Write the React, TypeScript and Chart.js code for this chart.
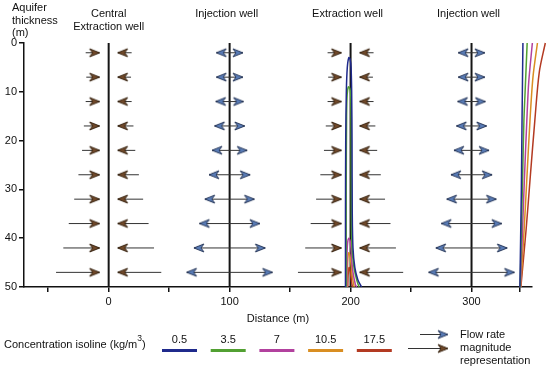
import React, { useEffect, useRef } from 'react';
import { Chart, registerables } from 'chart.js';
Chart.register(...registerables);

// ---------- data ----------
const wellPositions = [0, 100, 200, 300];
const wellTitles = [['Central', 'Extraction well'], ['Injection well'], ['Extraction well'], ['Injection well']];
const wellKinds = ['extraction', 'injection', 'extraction', 'injection'];

const arrowDepths = [2, 7, 12, 17, 22, 27, 32, 37, 42, 47];
const extractionTipGap = 7.5;
const extractionTailReach = [19, 18.5, 19, 20.5, 22, 25, 28.5, 33, 37.5, 43.5];
const injectionReach = [11, 11, 11.5, 12.5, 14.5, 17, 20.5, 25, 29.5, 35.5];

const isolineLevels = ['0.5', '3.5', '7', '10.5', '17.5'];
const isolineColors = ['#1f2a8c', '#52a032', '#b2419e', '#d98e22', '#b33a22'];

const plume05 = [
  { x: 195.8, y: 50 }, { x: 195.8, y: 35 }, { x: 196, y: 20 }, { x: 196.5, y: 10 }, { x: 197.3, y: 5 },
  { x: 198.5, y: 3 }, { x: 199.6, y: 3.3 }, { x: 200.4, y: 5 }, { x: 200.9, y: 10 }, { x: 201.2, y: 20 },
  { x: 201.4, y: 35 }, { x: 202, y: 42 }, { x: 203.5, y: 46 }, { x: 206, y: 48.5 }, { x: 209, y: 50 },
];
const plume35 = [
  { x: 196.4, y: 50 }, { x: 196.4, y: 30 }, { x: 196.7, y: 15 }, { x: 197.2, y: 10.5 }, { x: 198.2, y: 9 },
  { x: 199.4, y: 9.3 }, { x: 200.2, y: 11 }, { x: 200.5, y: 20 }, { x: 200.7, y: 35 }, { x: 201.2, y: 42 },
  { x: 202.8, y: 46 }, { x: 205, y: 48.5 }, { x: 207, y: 50 },
];
const plume7 = [
  { x: 196.9, y: 50 }, { x: 197, y: 44 }, { x: 197.5, y: 41 }, { x: 198.5, y: 40 }, { x: 199.6, y: 40.5 },
  { x: 200.3, y: 42 }, { x: 200.8, y: 44 }, { x: 202, y: 47 }, { x: 204, y: 49.5 }, { x: 205, y: 50 },
];
const plume105 = [
  { x: 197.3, y: 50 }, { x: 197.6, y: 45 }, { x: 198.4, y: 43 }, { x: 199.5, y: 43.5 }, { x: 200.4, y: 45.5 },
  { x: 201.5, y: 48 }, { x: 203, y: 50 },
];
const plume175 = [
  { x: 197.7, y: 50 }, { x: 198, y: 47.5 }, { x: 198.8, y: 46 }, { x: 199.7, y: 46.8 }, { x: 200.6, y: 48.5 },
  { x: 201.5, y: 50 },
];

const boundary05 = [{ x: 342.5, y: 0 }, { x: 341.8, y: 15 }, { x: 341.2, y: 30 }, { x: 340.6, y: 40 }, { x: 340, y: 50 }];
const boundary35 = [{ x: 346, y: 0 }, { x: 344.3, y: 10 }, { x: 343.3, y: 16 }, { x: 342.2, y: 28 }, { x: 341.1, y: 40 }, { x: 340.2, y: 50 }];
const boundary7 = [{ x: 350.3, y: 0 }, { x: 347.3, y: 8 }, { x: 345.7, y: 16 }, { x: 343.7, y: 28 }, { x: 341.9, y: 40 }, { x: 340.4, y: 50 }];
const boundary105 = [{ x: 354.5, y: 0 }, { x: 350.8, y: 7 }, { x: 348.3, y: 16 }, { x: 345.7, y: 28 }, { x: 343.1, y: 40 }, { x: 340.6, y: 50 }];
const boundary175 = [{ x: 361, y: 0 }, { x: 356, y: 6 }, { x: 352.3, y: 16 }, { x: 348.7, y: 27 }, { x: 345.2, y: 38 }, { x: 340.8, y: 50 }];

const plumes = [plume05, plume35, plume7, plume105, plume175];
const boundaries = [boundary05, boundary35, boundary7, boundary105, boundary175];

const xTickValues = [-50, 0, 50, 100, 150, 200, 250, 300, 340];
const xTickLabels = ['', '0', '', '100', '', '200', '', '300', ''];
const yTickValues = [0, 10, 20, 30, 40, 50];

const FONT = '"Liberation Sans", Arial, Helvetica, sans-serif';

function makeHead(fill: string, stroke: string, len: number, half: number, notch: number) {
  const c = document.createElement('canvas');
  const w = Math.ceil(len * 2 + 4);
  const h = Math.ceil(half * 2 + 4);
  c.width = w;
  c.height = h;
  const g = c.getContext('2d')!;
  const cx = w / 2;
  const cy = h / 2;
  g.beginPath();
  g.moveTo(cx, cy);
  g.lineTo(cx - len, cy - half);
  g.lineTo(cx - len + notch, cy);
  g.lineTo(cx - len, cy + half);
  g.closePath();
  g.fillStyle = fill;
  g.fill();
  g.lineWidth = 1;
  g.strokeStyle = stroke;
  g.stroke();
  return c;
}

export default function App() {
  const ref = useRef<HTMLCanvasElement | null>(null);

  useEffect(() => {
    if (!ref.current) return;
    const brownHead = makeHead('#71492a', '#36220f', 10, 4, 3);
    const blueHead = makeHead('#5a7db8', '#27375a', 10, 4, 3);

    const datasets: any[] = [];

    // isolines
    plumes.forEach((pts, i) => {
      datasets.push({
        data: pts, showLine: true, borderColor: isolineColors[i], borderWidth: 1.5,
        pointRadius: 0, tension: 0.3, clip: false, order: 1,
      });
    });
    boundaries.forEach((pts, i) => {
      datasets.push({
        data: pts, showLine: true, borderColor: isolineColors[i], borderWidth: 1.5,
        pointRadius: 0, tension: 0.3, clip: false, order: 1,
      });
    });

    // arrows
    wellPositions.forEach((w, wi) => {
      arrowDepths.forEach((d, di) => {
        if (wellKinds[wi] === 'extraction') {
          datasets.push({
            data: [{ x: w - extractionTailReach[di], y: d }, { x: w - extractionTipGap, y: d }],
            showLine: true, borderColor: '#333', borderWidth: 1,
            pointRadius: [0, 5], pointStyle: brownHead, rotation: 0, order: 2,
          });
          datasets.push({
            data: [{ x: w + extractionTailReach[di], y: d }, { x: w + extractionTipGap, y: d }],
            showLine: true, borderColor: '#333', borderWidth: 1,
            pointRadius: [0, 5], pointStyle: brownHead, rotation: 180, order: 2,
          });
        } else {
          datasets.push({
            data: [{ x: w - injectionReach[di], y: d }, { x: w + injectionReach[di], y: d }],
            showLine: true, borderColor: '#333', borderWidth: 1,
            pointRadius: [5, 5], pointStyle: blueHead, rotation: [180, 0], order: 2,
          });
        }
      });
    });

    // wells
    wellPositions.forEach((w) => {
      datasets.push({
        data: [{ x: w, y: 0 }, { x: w, y: 50 }], showLine: true, borderColor: '#151515',
        borderWidth: 2, pointRadius: 0, order: 3,
      });
    });

    const annot = {
      id: 'annot',
      afterDraw(chart: any) {
        const ctx = chart.ctx as CanvasRenderingContext2D;
        const xs = chart.scales.x;
        ctx.save();
        ctx.fillStyle = '#111';
        ctx.font = `11px ${FONT}`;
        ctx.textBaseline = 'middle';
        ctx.textAlign = 'center';
        wellPositions.forEach((w, i) => {
          const lines = wellTitles[i];
          const px = xs.getPixelForValue(w) - (lines.length > 1 ? 0 : 3);
          lines.forEach((t, j) => ctx.fillText(t, px, 14 + j * 13));
        });
        ctx.textAlign = 'left';
        ['Aquifer', 'thickness', '(m)'].forEach((t, j) => ctx.fillText(t, 12, 8 + j * 12.5));
        ctx.textAlign = 'center';
        ctx.fillText('Distance (m)', (chart.chartArea.left + chart.chartArea.right) / 2, 319);

        // concentration legend
        ctx.textAlign = 'left';
        const base = 'Concentration isoline (kg/m';
        let x = 4;
        ctx.fillText(base, x, 345);
        x += ctx.measureText(base).width;
        ctx.font = `8.5px ${FONT}`;
        ctx.fillText('3', x, 339);
        x += ctx.measureText('3').width;
        ctx.font = `11px ${FONT}`;
        ctx.fillText(')', x, 345);

        ctx.textAlign = 'center';
        isolineLevels.forEach((lv, i) => {
          const sx = 162 + i * 48.7;
          ctx.fillStyle = '#111';
          ctx.fillText(lv, sx + 17.5, 340);
          ctx.fillStyle = isolineColors[i];
          ctx.fillRect(sx, 349, 35, 3);
        });

        // flow legend
        ctx.strokeStyle = '#333';
        ctx.lineWidth = 1;
        ctx.beginPath();
        ctx.moveTo(420, 334.5);
        ctx.lineTo(447, 334.5);
        ctx.moveTo(408, 348.5);
        ctx.lineTo(447, 348.5);
        ctx.stroke();
        ctx.drawImage(blueHead, 448 - blueHead.width / 2, 334.5 - blueHead.height / 2);
        ctx.drawImage(brownHead, 448 - brownHead.width / 2, 348.5 - brownHead.height / 2);
        ctx.fillStyle = '#111';
        ctx.textAlign = 'left';
        ctx.fillText('Flow rate', 460, 335);
        ctx.fillText('magnitude', 460, 348);
        ctx.fillText('representation', 460, 361);
        ctx.restore();
      },
    };

    const chart = new Chart(ref.current, {
      type: 'scatter',
      data: { datasets },
      options: {
        animation: false,
        responsive: false,
        devicePixelRatio: 1,
        events: [],
        layout: { padding: { top: 43, right: 18, bottom: 54, left: 0 } },
        plugins: { legend: { display: false }, tooltip: { enabled: false } },
        scales: {
          x: {
            type: 'linear',
            min: -70,
            max: 350,
            afterFit: (s: any) => { s.height = 30; },
            afterBuildTicks: (s: any) => { s.ticks = xTickValues.map((v) => ({ value: v })); },
            ticks: {
              autoSkip: false, maxRotation: 0, padding: 3, color: '#111',
              font: { size: 11, family: FONT },
              callback: (_v: any, i: number) => xTickLabels[i],
            },
            grid: { drawOnChartArea: false, tickLength: 5, color: '#111', lineWidth: 1.5 },
            border: { color: '#111', width: 1.5 },
          },
          y: {
            type: 'linear',
            reverse: true,
            min: 0,
            max: 50,
            afterFit: (s: any) => { s.width = 24; },
            afterBuildTicks: (s: any) => { s.ticks = yTickValues.map((v) => ({ value: v })); },
            ticks: { padding: 2, color: '#111', font: { size: 11, family: FONT } },
            grid: { drawOnChartArea: false, tickLength: 5, color: '#111', lineWidth: 1.5 },
            border: { color: '#111', width: 1.5 },
          },
        },
      },
      plugins: [annot],
    } as any);

    return () => chart.destroy();
  }, []);

  return (
    <div style={{ position: 'absolute', left: 0, top: 0, width: 550, height: 371, background: '#fff' }}>
      <canvas ref={ref} width={550} height={371} style={{ display: 'block', width: 550, height: 371 }} />
    </div>
  );
}
